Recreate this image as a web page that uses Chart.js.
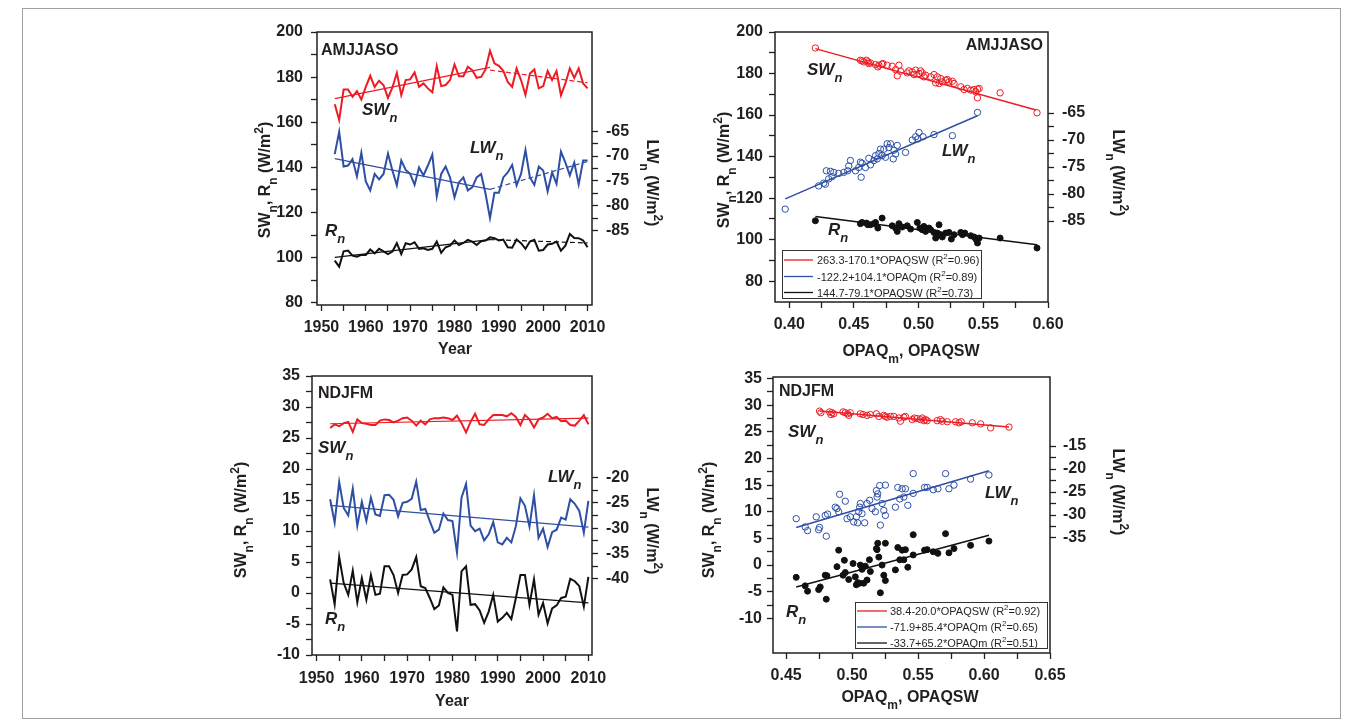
<!DOCTYPE html>
<html><head><meta charset="utf-8">
<script src="https://cdn.jsdelivr.net/npm/chart.js@4.4.1/dist/chart.umd.min.js"></script>
<style>
html,body{margin:0;padding:0;background:#fff;}
body{width:1361px;height:728px;position:relative;overflow:hidden;}
#frame{position:absolute;left:22px;top:8px;width:1317px;height:709px;border:1px solid #a0a0a0;}
canvas{position:absolute;}
</style></head><body>
<div id="frame"></div>
<canvas id="c1" width="460" height="353" style="left:225px;top:12px;width:460px;height:353px"></canvas>
<canvas id="c2" width="440" height="353" style="left:700px;top:12px;width:440px;height:353px"></canvas>
<canvas id="c3" width="460" height="362" style="left:225px;top:356px;width:460px;height:362px"></canvas>
<canvas id="c4" width="450" height="361" style="left:690px;top:357px;width:450px;height:361px"></canvas>
<script>
// ---------------- DATA ----------------
const years = [1953,1954,1955,1956,1957,1958,1959,1960,1961,1962,1963,1964,1965,1966,1967,1968,1969,1970,1971,1972,1973,1974,1975,1976,1977,1978,1979,1980,1981,1982,1983,1984,1985,1986,1987,1988,1989,1990,1991,1992,1993,1994,1995,1996,1997,1998,1999,2000,2001,2002,2003,2004,2005,2006,2007,2008,2009,2010];

// AMJJASO time series
const amjSW = [168,161,174.5,174.5,171.3,173.8,170.1,175.7,180.6,175.7,178.4,176.4,170.8,175.4,181.9,172,178.7,179,182.1,175.7,177.2,175,173.3,184.9,176,176.5,178.7,185.6,180.4,180.4,184.6,183.1,179.7,180.1,183.4,191.7,186.1,185,182.8,177.9,175.7,183.9,178.7,172.1,181.6,183.4,175,176,182.7,178.7,182.7,172,177.2,183.9,179.7,183.9,177.2,175];
const amjLW = [-69.6,-65.1,-72.1,-71.9,-70.6,-74.1,-69.3,-75.1,-76.9,-73.6,-74.7,-73.6,-69.5,-72.9,-75.9,-70.9,-72.8,-73.6,-75.8,-72.3,-73.9,-71.9,-69.7,-78.1,-73.6,-72.1,-74.3,-78.3,-75.3,-74.3,-76.9,-76.3,-74.3,-73.6,-77.6,-82.5,-77.4,-77.4,-74.3,-73.3,-71.8,-75.9,-73.6,-68.8,-74.3,-75.8,-72.1,-72.9,-77.1,-73.3,-75.6,-69.1,-71.3,-73.9,-71.3,-75.7,-70.9,-70.9];
const amjRn = [98.7,96,102.8,103.1,100.9,100.4,101.2,101.2,103.6,101.9,103.9,102.8,101.6,102.7,106.4,101.6,106.4,105.8,106.8,103.9,104.1,103.4,103.9,107.1,102.1,104.6,105.3,107.6,105.6,106.5,107.9,107.1,105.6,107.3,107.6,109,108.6,107.6,108,104.6,104.4,108,106.4,103.9,107.1,107.9,103.1,103.4,105.8,106.1,107.1,103.1,105.3,110.5,108.7,108.6,107.6,104.6];
const amjSWTrendA = [[1953,170.5],[1988,184.3]];
const amjSWTrendB = [[1988,183.1],[2010,177.5]];
const amjLWTrendA = [[1953,-70.5],[1988,-76.7]];
const amjLWTrendB = [[1988,-76.7],[2010,-71.1]];
const amjRnTrendA = [[1953,100.1],[1988,108]];
const amjRnTrendB = [[1988,108],[2010,106.5]];

// NDJFM time series
const ndjSW = [26.6,27.2,26.9,27.4,27.6,26.0,28.0,27.4,27.3,27.1,27.1,27.8,28.0,27.9,27.5,27.8,28.2,28.3,27.8,27.0,27.8,27.2,28.0,28.2,28.2,28.3,28.2,27.9,28.6,27.4,25.9,27.6,28.9,27.2,27.1,28.0,28.7,28.7,28.7,28.5,29.0,28.4,27.1,28.7,28.0,26.7,28.0,28.3,28.9,28.2,28.4,27.7,27.8,27.1,27.0,27.8,28.7,27.2];
const ndjLW = [-24.3,-28.9,-20.9,-26.0,-27.5,-22.2,-29.5,-24.8,-28.6,-24.0,-27.3,-27.6,-23.5,-23.4,-24.4,-27.7,-25.0,-24.8,-24.2,-20.8,-26.4,-26.2,-28.6,-30.9,-30.3,-27.1,-28.4,-28.6,-34.8,-24.0,-21.3,-29.5,-30.6,-30.1,-32.4,-31.2,-28.8,-32.8,-33.2,-31.9,-32.8,-29.6,-24.1,-25.6,-29.7,-23.5,-31.9,-30.1,-33.7,-30.8,-30.3,-27.9,-28.3,-24.3,-25.2,-26.6,-30.9,-24.6];
const ndjRn = [2.2,-1.8,5.8,1.6,-0.3,3.6,-1.5,2.4,-1.1,2.9,-0.3,-0.1,4.3,4.3,2.9,0,2.9,3.0,3.8,5.8,1.1,0.8,-0.8,-2.6,-2.0,0.9,0,-0.3,-6.2,3.5,4.3,-1.9,-1.8,-2.8,-4.8,-3.0,-0.3,-4.6,-4.0,-3.2,-4.2,-0.8,2.9,2.9,-1.9,2.2,-3.5,-1.6,-4.9,-2.5,-2.0,-0.8,-0.6,2.3,1.9,1.1,-2.2,2.6];
const ndjSWTrend = [[1953,27.3],[2010,28.2]];
const ndjLWTrend = [[1953,-25.5],[2010,-29.8]];
const ndjRnTrend = [[1953,1.6],[2010,-1.6]];

// AMJJASO scatter [OPAQ, value]
const amjSWScatter = [[0.4202,192.3],[0.4550,186.4],[0.4563,186.1],[0.4597,186.4],[0.4607,185.6],[0.4615,184.8],[0.4576,185.6],[0.4628,185.1],[0.4667,184.3],[0.4693,184.0],[0.4718,184.5],[0.4685,183.2],[0.4724,184.8],[0.4757,184.0],[0.4796,183.5],[0.4822,181.9],[0.4848,184.0],[0.4835,178.9],[0.4860,181.1],[0.4912,180.3],[0.4925,181.3],[0.4951,180.8],[0.4977,181.6],[0.5003,180.0],[0.5015,181.3],[0.5028,180.3],[0.5041,178.4],[0.5054,179.2],[0.4964,179.5],[0.5093,178.4],[0.5119,179.5],[0.5145,178.4],[0.5171,177.6],[0.5183,176.0],[0.5209,176.8],[0.5222,177.1],[0.5235,176.0],[0.5261,176.3],[0.5274,175.2],[0.5158,175.2],[0.5132,175.5],[0.5326,173.6],[0.5351,172.3],[0.5377,172.8],[0.5403,172.0],[0.5429,172.3],[0.5455,172.5],[0.5468,172.8],[0.5455,168.3],[0.5442,171.2],[0.5630,170.7],[0.5915,161.1]];
const amjLWScatter = [[0.5455,-64.9],[0.5261,-69.2],[0.5119,-69.0],[0.5034,-69.4],[0.5003,-68.6],[0.4977,-69.4],[0.4995,-69.8],[0.4951,-70.0],[0.4899,-72.3],[0.4835,-71.0],[0.4809,-71.9],[0.4783,-70.7],[0.4757,-70.7],[0.4770,-71.4],[0.4731,-71.7],[0.4705,-71.7],[0.4693,-72.5],[0.4718,-72.9],[0.4744,-73.2],[0.4667,-72.9],[0.4680,-73.5],[0.4654,-73.8],[0.4804,-73.5],[0.4822,-72.6],[0.4628,-74.6],[0.4615,-73.4],[0.4589,-75.1],[0.4563,-74.3],[0.4550,-74.1],[0.4537,-75.1],[0.4473,-73.8],[0.4460,-74.8],[0.4452,-75.7],[0.4421,-76.0],[0.4382,-76.2],[0.4344,-76.0],[0.4318,-75.8],[0.4287,-75.7],[0.4331,-76.8],[0.4305,-77.2],[0.4556,-76.9],[0.4512,-75.7],[0.3969,-82.8],[0.4227,-78.5],[0.4266,-78.0],[0.4279,-78.2]];
const amjRnScatter = [[0.4202,109.1],[0.4550,107.7],[0.4563,108.3],[0.4607,107.2],[0.4597,108.0],[0.4628,107.2],[0.4667,108.3],[0.4685,105.6],[0.4718,110.4],[0.4654,107.7],[0.4796,106.7],[0.4822,105.6],[0.4835,104.0],[0.4848,107.7],[0.4873,106.1],[0.4912,106.7],[0.4938,105.1],[0.4990,108.3],[0.5010,105.6],[0.5028,104.8],[0.5041,106.4],[0.5054,104.0],[0.5080,105.6],[0.5093,104.8],[0.5119,103.5],[0.5132,100.8],[0.5145,103.2],[0.5158,107.2],[0.5171,102.4],[0.5183,101.3],[0.5209,103.2],[0.5235,103.5],[0.5253,100.3],[0.5274,102.4],[0.5326,103.5],[0.5339,102.4],[0.5357,103.2],[0.5403,101.9],[0.5429,101.3],[0.5442,100.3],[0.5455,98.4],[0.5468,100.8],[0.5630,100.8],[0.5915,96.0]];
const amjSWFit = [[0.4202,192.0],[0.5907,162.4]];
const amjLWFit = [[0.3969,-80.9],[0.5455,-65.5]];
const amjRnFit = [[0.4202,111.2],[0.5915,97.6]];

// NDJFM scatter [OPAQ, value]
const ndjSWScatter = [[0.4753,28.9],[0.4763,28.6],[0.4829,28.75],[0.4847,28.6],[0.4860,28.4],[0.4839,28.25],[0.4931,28.75],[0.4948,28.6],[0.4966,28.4],[0.4986,28.6],[0.4974,28.1],[0.5062,28.4],[0.5083,28.25],[0.5113,28.1],[0.5138,28.25],[0.5184,28.4],[0.5202,27.9],[0.5240,28.1],[0.5252,27.9],[0.5265,27.75],[0.5290,27.9],[0.5316,27.9],[0.5354,27.6],[0.5366,27.0],[0.5392,27.75],[0.5404,27.9],[0.5455,27.3],[0.5473,27.6],[0.5493,27.5],[0.5518,27.3],[0.5531,27.6],[0.5544,27.1],[0.5556,27.3],[0.5569,27.1],[0.5645,27.1],[0.5670,27.3],[0.5683,27.0],[0.5721,26.9],[0.5784,26.9],[0.5810,26.7],[0.5827,26.9],[0.5911,26.7],[0.5974,26.5],[0.6050,25.75],[0.6189,25.9]];
const ndjLWScatter = [[0.4576,-30.8],[0.4644,-32.6],[0.4728,-30.4],[0.4753,-32.7],[0.4796,-30.1],[0.4814,-29.8],[0.4872,-28.3],[0.4885,-28.6],[0.4905,-25.5],[0.4948,-27.0],[0.4898,-29.3],[0.4961,-30.8],[0.4986,-30.4],[0.5012,-31.5],[0.5032,-30.4],[0.5042,-31.7],[0.5050,-29.3],[0.5062,-27.5],[0.5057,-28.3],[0.5075,-29.7],[0.5095,-31.7],[0.5113,-27.5],[0.5133,-26.8],[0.5151,-28.6],[0.5176,-29.3],[0.5184,-24.7],[0.5189,-26.1],[0.5194,-25.4],[0.5209,-23.6],[0.5214,-32.2],[0.5227,-27.5],[0.5240,-29.0],[0.5252,-30.1],[0.5252,-23.5],[0.5328,-28.3],[0.5346,-24.0],[0.5361,-26.5],[0.5379,-24.3],[0.5392,-26.1],[0.5404,-24.3],[0.5422,-27.9],[0.5463,-21.0],[0.5463,-25.3],[0.5549,-24.0],[0.5569,-24.0],[0.5615,-24.5],[0.5650,-24.3],[0.5708,-21.0],[0.5734,-24.3],[0.5772,-23.5],[0.5898,-22.2],[0.6037,-21.3],[0.4804,-34.6],[0.4662,-33.4],[0.4746,-33.2]];
const ndjRnScatter = [[0.4576,-2.3],[0.4644,-3.9],[0.4662,-4.9],[0.4746,-4.6],[0.4758,-4.1],[0.4804,-6.4],[0.4796,-1.9],[0.4809,-2.0],[0.4885,-0.3],[0.4898,2.8],[0.4941,0.9],[0.4948,-1.4],[0.4974,-2.7],[0.5007,0.3],[0.5024,-2.2],[0.5032,-3.7],[0.5042,-3.3],[0.5057,-3.4],[0.5062,0],[0.5075,-0.8],[0.5088,-3.4],[0.5100,-0.2],[0.5131,1.0],[0.5138,-1.2],[0.5184,3.1],[0.5189,2.9],[0.5194,4.1],[0.5202,1.5],[0.5214,-5.2],[0.5227,0],[0.5240,-1.9],[0.5252,4.1],[0.5252,-2.9],[0.5328,-0.9],[0.5346,3.3],[0.5361,1.0],[0.5379,2.8],[0.5392,1.0],[0.5404,2.9],[0.5422,-0.4],[0.5463,5.7],[0.5463,1.9],[0.5549,2.8],[0.5569,2.9],[0.5615,2.5],[0.5650,2.2],[0.5708,5.9],[0.5734,2.3],[0.5772,3.1],[0.5898,3.7],[0.6037,4.5],[0.4931,-1.9],[0.5113,-2.8]];
const ndjSWFit = [[0.4753,28.9],[0.6189,25.9]];
const ndjLWFit = [[0.4576,-32.7],[0.6037,-20.4]];
const ndjRnFit = [[0.4576,-4.1],[0.6037,5.6]];

// Ticks
const yearTicks = [1950,1955,1960,1965,1970,1975,1980,1985,1990,1995,2000,2005,2010];
const amjLeftTicks = [80,90,100,110,120,130,140,150,160,170,180,190,200];
const amjRightTicks = [-85,-82.5,-80,-77.5,-75,-72.5,-70,-67.5,-65];
const opaqTopTicks = [0.4,0.425,0.45,0.475,0.5,0.525,0.55,0.575,0.6];
const ndjLeftTicks = [-10,-7.5,-5,-2.5,0,2.5,5,7.5,10,12.5,15,17.5,20,22.5,25,27.5,30,32.5,35];
const ndjRightTicksTS = [-40,-37.5,-35,-32.5,-30,-27.5,-25,-22.5,-20];
const ndjRightTicksSC = [-35,-32.5,-30,-27.5,-25,-22.5,-20,-17.5,-15];
const opaqBotTicks = [0.45,0.475,0.5,0.525,0.55,0.575,0.6,0.625,0.65];

const amjLegend = ['263.3-170.1*OPAQSW', '-122.2+104.1*OPAQm', '144.7-79.1*OPAQSW'];
const amjR2 = ['0.96','0.89','0.73'];
const ndjLegend = ['38.4-20.0*OPAQSW', '-71.9+85.4*OPAQm', '-33.7+65.2*OPAQm'];
const ndjR2 = ['0.92','0.65','0.51'];

// ---------------- RENDER ----------------
const FONT = "'Liberation Sans', Arial, Helvetica, sans-serif";
Chart.defaults.font.family = FONT;
Chart.defaults.color = '#231f20';
const INK = '#231f20', RED = '#ed1c24', BLUE = '#2e4fa3', BLK = '#111111';

const pts = (xs, ys) => xs.map((x, i) => ({x, y: ys[i]}));
const pairs = arr => arr.map(p => ({x: p[0], y: p[1]}));
const mod = (v, m) => Math.abs(v / m - Math.round(v / m)) < 1e-6;

function axis(pos, min, max, ticks, isMajor, fmt, size, pad) {
  return {
    type: 'linear', position: pos, min, max,
    afterBuildTicks(s) { s.ticks = ticks.map(v => ({value: v})); },
    afterFit(s) { if (pos === 'bottom') s.height = size; else s.width = size; },
    ticks: {autoSkip: false, maxRotation: 0, minRotation: 0, padding: pad, color: INK,
      font: {size: 16, weight: 'bold'}, callback: v => isMajor(v) ? fmt(v) : ''},
    grid: {drawOnChartArea: false, drawTicks: true, tickLength: 6, tickWidth: 1.3, tickColor: INK},
    border: {display: false}
  };
}

function drawRich(ctx, x, y, parts, size, style, align, rot) {
  ctx.save();
  ctx.translate(x, y);
  if (rot) ctx.rotate(rot * Math.PI / 180);
  const fonts = parts.map(p => `${style} ${p[1] ? Math.round(size * 0.74) : size}px ${FONT}`);
  let total = 0;
  const widths = parts.map((p, i) => { ctx.font = fonts[i]; const w = ctx.measureText(p[0]).width; total += w; return w; });
  let cx = align === 'center' ? -total / 2 : align === 'right' ? -total : 0;
  ctx.textBaseline = 'alphabetic'; ctx.textAlign = 'left'; ctx.fillStyle = INK;
  parts.forEach((p, i) => {
    ctx.font = fonts[i];
    const dy = p[1] === 'sub' ? size * 0.42 : p[1] === 'sup' ? -size * 0.45 : 0;
    ctx.fillText(p[0], cx, dy);
    cx += widths[i];
  });
  ctx.restore();
}

function drawLegend(ctx, L) {
  ctx.save();
  ctx.fillStyle = '#fff';
  ctx.fillRect(L.x, L.y, L.w, L.h);
  ctx.strokeStyle = '#333'; ctx.lineWidth = 1;
  ctx.strokeRect(L.x + 0.5, L.y + 0.5, L.w, L.h);
  L.rows.forEach((r, i) => {
    const yy = L.rowY[i];
    ctx.strokeStyle = r.color; ctx.lineWidth = 1.3;
    ctx.beginPath(); ctx.moveTo(L.lx1, yy); ctx.lineTo(L.lx2, yy); ctx.stroke();
    drawRich(ctx, L.tx, yy + 4, [[r.text + ' (R', ''], ['2', 'sup'], ['=' + r.r2 + ')', '']], 11, 'normal', 'left', 0);
  });
  ctx.restore();
}

function deco(box, items, legend) {
  return {
    id: 'deco',
    afterDraw(chart) {
      const ctx = chart.ctx, a = chart.chartArea;
      ctx.save();
      ctx.strokeStyle = INK; ctx.lineWidth = 1.5;
      ctx.strokeRect(a.left, a.top, a.right - a.left, a.bottom - a.top);
      ctx.restore();
      ctx.save();
      ctx.translate(-box.x, -box.y);
      if (legend) drawLegend(ctx, legend);
      items.forEach(it => drawRich(ctx, it.x, it.y, it.parts, it.size, it.style, it.align || 'left', it.rot || 0));
      ctx.restore();
    }
  };
}

const SWn = [['SW', ''], ['n', 'sub']], LWn = [['LW', ''], ['n', 'sub']], RRn = [['R', ''], ['n', 'sub']];
const leftTitle = [['SW', ''], ['n', 'sub'], [', R', ''], ['n', 'sub'], [' (W/m', ''], ['2', 'sup'], [')', '']];
const rightTitle = [['LW', ''], ['n', 'sub'], [' (W/m', ''], ['2', 'sup'], [')', '']];
const opaqTitle = [['OPAQ', ''], ['m', 'sub'], [', OPAQSW', '']];
const LBL = 'italic bold';

function lineDS(data, color, width, axisId, dash) {
  return {data, borderColor: color, backgroundColor: color, borderWidth: width, pointRadius: 0,
    showLine: true, yAxisID: axisId, borderDash: dash || [], tension: 0};
}
function dotDS(data, color, filled, axisId) {
  return {data, borderColor: color, backgroundColor: filled ? color : 'rgba(0,0,0,0)', borderWidth: 1,
    pointRadius: filled ? 3 : 3.2, pointStyle: 'circle', showLine: false, yAxisID: axisId};
}

function make(id, box, pad, scales, datasets, items, legend) {
  return new Chart(document.getElementById(id), {
    type: 'scatter',
    data: {datasets},
    options: {
      responsive: false, animation: false, devicePixelRatio: 1, events: [],
      layout: {padding: {top: pad, left: 0, right: 0, bottom: 0}},
      plugins: {legend: {display: false}, tooltip: {enabled: false}},
      scales
    },
    plugins: [deco(box, items, legend)]
  });
}

const yearFmt = v => String(v);
const intFmt = v => String(v);
const opFmt = v => v.toFixed(2);

// Panel 1
const b1 = {x: 225, y: 12};
make('c1', b1, 20, {
  x: axis('bottom', 1949, 2011, yearTicks, v => mod(v, 10), yearFmt, 60, 7),
  y: axis('left', 79, 200, amjLeftTicks, v => mod(v, 20), intFmt, 92, 8),
  y2: axis('right', -100, -45, amjRightTicks, v => mod(v, 5), intFmt, 93, 8)
}, [
  lineDS(pts(years, amjSW), RED, 2, 'y'),
  lineDS(pts(years, amjLW), BLUE, 2, 'y2'),
  lineDS(pts(years, amjRn), BLK, 2, 'y'),
  lineDS(pairs(amjSWTrendA), RED, 1.2, 'y'),
  lineDS(pairs(amjSWTrendB), RED, 1.2, 'y', [5, 3]),
  lineDS(pairs(amjLWTrendA), BLUE, 1.2, 'y2'),
  lineDS(pairs(amjLWTrendB), BLUE, 1.2, 'y2', [5, 3]),
  lineDS(pairs(amjRnTrendA), BLK, 1.2, 'y'),
  lineDS(pairs(amjRnTrendB), BLK, 1.2, 'y', [5, 3])
], [
  {x: 321, y: 55, parts: [['AMJJASO', '']], size: 16, style: 'bold'},
  {x: 362, y: 115, parts: SWn, size: 17, style: LBL},
  {x: 470, y: 153, parts: LWn, size: 17, style: LBL},
  {x: 325, y: 236, parts: RRn, size: 17, style: LBL},
  {x: 270, y: 180, parts: leftTitle, size: 16, style: 'bold', align: 'center', rot: -90},
  {x: 647, y: 183, parts: rightTitle, size: 16, style: 'bold', align: 'center', rot: 90},
  {x: 455, y: 354, parts: [['Year', '']], size: 16, style: 'bold', align: 'center'}
]);

// Panel 2
const b2 = {x: 700, y: 12};
make('c2', b2, 20, {
  x: axis('bottom', 0.389, 0.6, opaqTopTicks, v => mod(v, 0.05), opFmt, 63, 7),
  y: axis('left', 70, 200, amjLeftTicks, v => mod(v, 20), intFmt, 75, 6),
  y2: axis('right', -100, -50, amjRightTicks, v => mod(v, 5), intFmt, 92, 8)
}, [
  lineDS(pairs(amjSWFit), RED, 1.5, 'y'),
  lineDS(pairs(amjLWFit), BLUE, 1.5, 'y2'),
  lineDS(pairs(amjRnFit), BLK, 1.5, 'y'),
  dotDS(pairs(amjSWScatter), RED, false, 'y'),
  dotDS(pairs(amjLWScatter), BLUE, false, 'y2'),
  dotDS(pairs(amjRnScatter), BLK, true, 'y')
], [
  {x: 1043, y: 50, parts: [['AMJJASO', '']], size: 16, style: 'bold', align: 'right'},
  {x: 807, y: 75, parts: SWn, size: 17, style: LBL},
  {x: 942, y: 156, parts: LWn, size: 17, style: LBL},
  {x: 828, y: 235, parts: RRn, size: 17, style: LBL},
  {x: 729, y: 170, parts: leftTitle, size: 16, style: 'bold', align: 'center', rot: -90},
  {x: 1113, y: 173, parts: rightTitle, size: 16, style: 'bold', align: 'center', rot: 90},
  {x: 911, y: 356, parts: opaqTitle, size: 16, style: 'bold', align: 'center'}
], {
  x: 782, y: 250, w: 199, h: 48, lx1: 784, lx2: 813, tx: 817, rowY: [260, 276.5, 292.5],
  rows: [{color: RED, text: amjLegend[0], r2: amjR2[0]}, {color: BLUE, text: amjLegend[1], r2: amjR2[1]}, {color: BLK, text: amjLegend[2], r2: amjR2[2]}]
});

// Panel 3
const b3 = {x: 225, y: 356};
make('c3', b3, 20, {
  x: axis('bottom', 1949, 2010.8, yearTicks, v => mod(v, 10), yearFmt, 63, 8),
  y: axis('left', -10, 35, ndjLeftTicks, v => mod(v, 5), intFmt, 87, 6),
  y2: axis('right', -55, 0, ndjRightTicksTS, v => mod(v, 5), intFmt, 93, 8)
}, [
  lineDS(pts(years, ndjSW), RED, 2, 'y'),
  lineDS(pts(years, ndjLW), BLUE, 2, 'y2'),
  lineDS(pts(years, ndjRn), BLK, 2, 'y'),
  lineDS(pairs(ndjSWTrend), RED, 1.2, 'y'),
  lineDS(pairs(ndjLWTrend), BLUE, 1.2, 'y2'),
  lineDS(pairs(ndjRnTrend), BLK, 1.2, 'y')
], [
  {x: 318, y: 398, parts: [['NDJFM', '']], size: 16, style: 'bold'},
  {x: 318, y: 453, parts: SWn, size: 17, style: LBL},
  {x: 548, y: 482, parts: LWn, size: 17, style: LBL},
  {x: 325, y: 624, parts: RRn, size: 17, style: LBL},
  {x: 246, y: 520, parts: leftTitle, size: 16, style: 'bold', align: 'center', rot: -90},
  {x: 647, y: 531, parts: rightTitle, size: 16, style: 'bold', align: 'center', rot: 90},
  {x: 452, y: 706, parts: [['Year', '']], size: 16, style: 'bold', align: 'center'}
]);

// Panel 4
const b4 = {x: 690, y: 357};
make('c4', b4, 20, {
  x: axis('bottom', 0.44, 0.65, opaqBotTicks, v => mod(v, 0.05), opFmt, 65, 7),
  y: axis('left', -16.5, 35.3, ndjLeftTicks, v => mod(v, 5), intFmt, 83, 5),
  y2: axis('right', -60, 0, ndjRightTicksSC, v => mod(v, 5), intFmt, 90, 7)
}, [
  lineDS(pairs(ndjSWFit), RED, 1.5, 'y'),
  lineDS(pairs(ndjLWFit), BLUE, 1.5, 'y2'),
  lineDS(pairs(ndjRnFit), BLK, 1.5, 'y'),
  dotDS(pairs(ndjSWScatter), RED, false, 'y'),
  dotDS(pairs(ndjLWScatter), BLUE, false, 'y2'),
  dotDS(pairs(ndjRnScatter), BLK, true, 'y')
], [
  {x: 779, y: 396, parts: [['NDJFM', '']], size: 16, style: 'bold'},
  {x: 788, y: 437, parts: SWn, size: 17, style: LBL},
  {x: 985, y: 498, parts: LWn, size: 17, style: LBL},
  {x: 786, y: 617, parts: RRn, size: 17, style: LBL},
  {x: 714, y: 520, parts: leftTitle, size: 16, style: 'bold', align: 'center', rot: -90},
  {x: 1113, y: 492, parts: rightTitle, size: 16, style: 'bold', align: 'center', rot: 90},
  {x: 910, y: 702, parts: opaqTitle, size: 16, style: 'bold', align: 'center'}
], {
  x: 855, y: 602, w: 192, h: 46, lx1: 857, lx2: 887, tx: 890, rowY: [611, 627, 643],
  rows: [{color: RED, text: ndjLegend[0], r2: ndjR2[0]}, {color: BLUE, text: ndjLegend[1], r2: ndjR2[1]}, {color: BLK, text: ndjLegend[2], r2: ndjR2[2]}]
});
</script>
</body></html>
